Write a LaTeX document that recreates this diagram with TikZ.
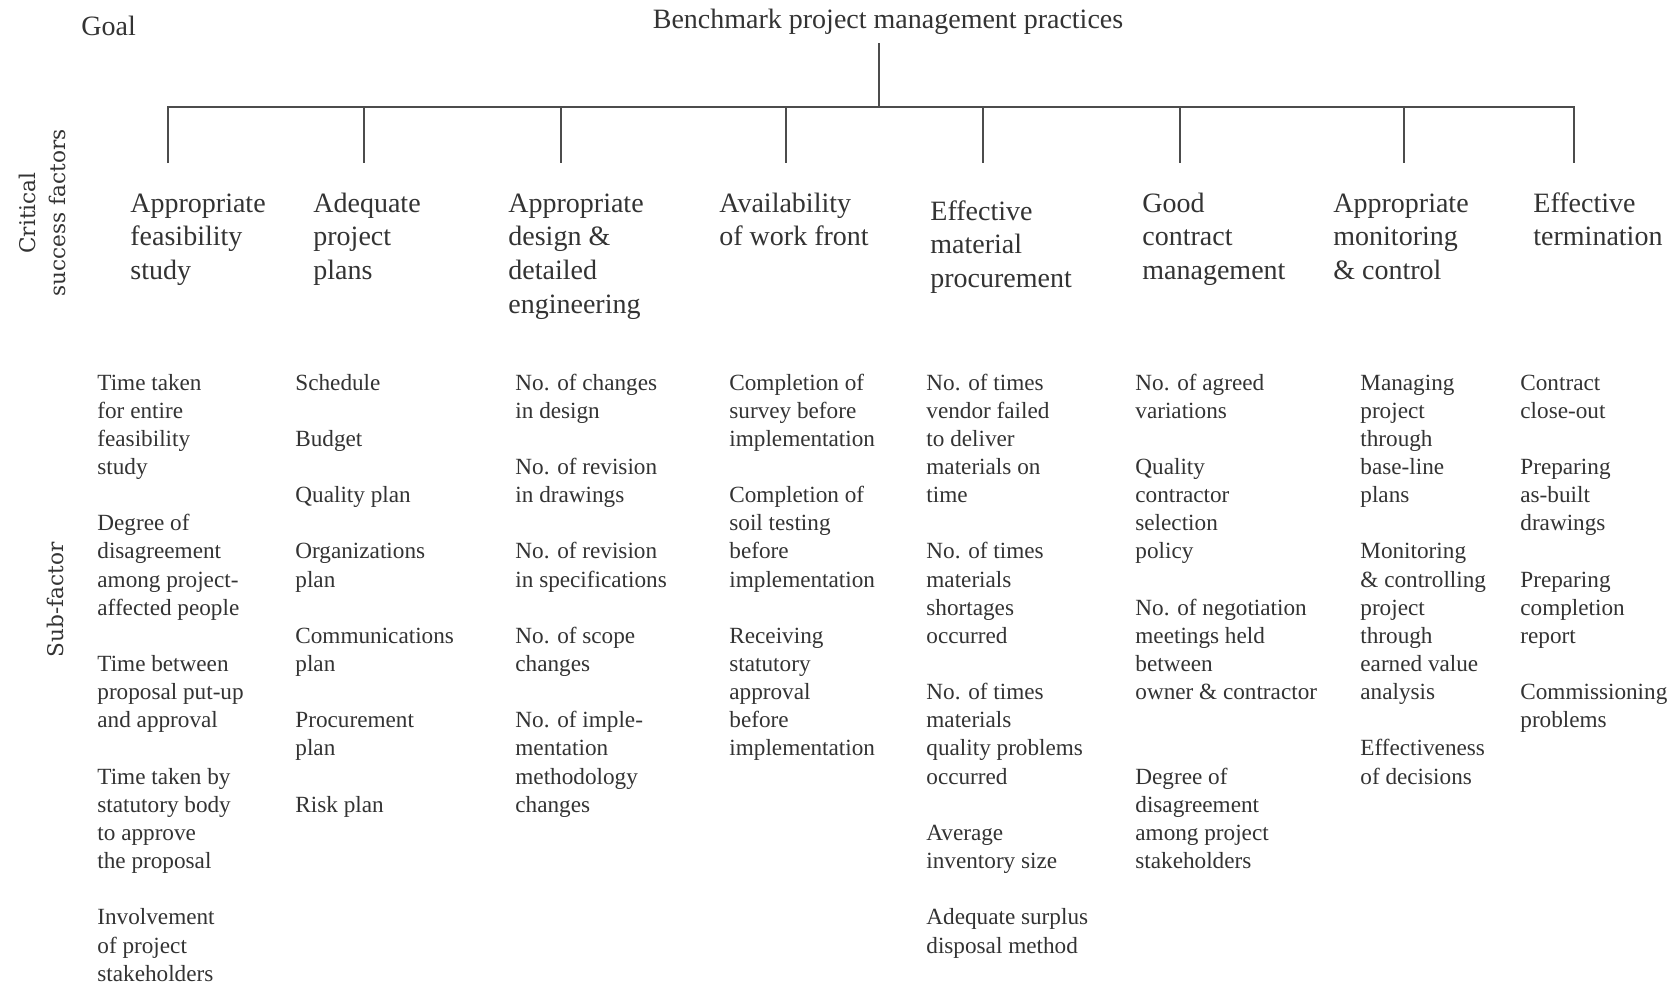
\documentclass[tikz,border=0pt]{standalone}
\usepackage{fontspec}
\setmainfont{Liberation Serif}
\newfontfamily\sidefont{DejaVu Serif}
\newcommand{\subrow}[1]{390+#1*28.15}
\newcommand{\stack}[1]{\begin{tabular}[t]{@{}l@{}}#1\end{tabular}}

\begin{document}
\begin{tikzpicture}[x=0.5pt,y=-0.5pt,
  cat/.style={anchor=base west, inner sep=0, text=black!80,
    font=\fontsize{14}{16.95}\selectfont},
  sub/.style={anchor=base west, inner sep=0, text=black!80,
    font=\fontsize{11.6}{14.07}\selectfont},
  side/.style={rotate=90, align=center, inner sep=0, text=black!80,
    font=\sidefont\fontsize{10.8}{15}\selectfont},
  tree/.style={line width=1pt, draw=black!70}]

  \useasboundingbox[fill=white] (0,0) rectangle (1675,985);

  % goal level
  \node[cat] (goal) at (81,35) {Goal};
  \node[cat,anchor=base] (bench) at (888,28) {Benchmark project management practices};

  \node[side] (csf) at (42,213) {Critical\\success factors};
  \node[side] (subf) at (55,600) {Sub-factor};

  % tree
  \coordinate (stem) at (879,43);
  \coordinate (hub) at (879,107);
  \foreach \x [count=\i] in {168,364,561,786,983,1180,1404,1574}
    \coordinate (drop\i) at (\x,163);
  \draw[tree] (stem) -- (hub);
  \draw[tree] (drop1) -- (drop1 |- hub) -- (drop8 |- hub) -- (drop8);
  \foreach \i in {2,...,7}
    \draw[tree] (drop\i |- hub) -- (drop\i);

  % critical success factors
  \node[cat] (feas) at (130,212) {\stack{Appropriate\\feasibility\\study}};
  \node[cat] (plans) at (313,212) {\stack{Adequate\\project\\plans}};
  \node[cat] (design) at (508,212) {\stack{Appropriate\\design \&\\detailed\\engineering}};
  \node[cat] (front) at (719,212) {\stack{Availability\\of work front}};
  \node[cat] (procure) at (930,220) {\stack{Effective\\material\\procurement}};
  \node[cat] (contract) at (1142,212) {\stack{Good\\contract\\management}};
  \node[cat] (monitor) at (1333,212) {\stack{Appropriate\\monitoring\\\& control}};
  \node[cat] (termin) at (1533,212) {\stack{Effective\\termination}};

  % sub-factors
  \node[sub] (feas1) at (97,\subrow{0}) {\stack{Time taken\\for entire\\feasibility\\study}};
  \node[sub] (feas2) at (97,\subrow{5}) {\stack{Degree of\\disagreement\\among project-\\affected people}};
  \node[sub] (feas3) at (97,\subrow{10}) {\stack{Time between\\proposal put-up\\and approval}};
  \node[sub] (feas4) at (97,\subrow{14}) {\stack{Time taken by\\statutory body\\to approve\\the proposal}};
  \node[sub] (feas5) at (97,\subrow{19}) {\stack{Involvement\\of project\\stakeholders}};

  \node[sub] (plans1) at (295,\subrow{0}) {Schedule};
  \node[sub] (plans2) at (295,\subrow{2}) {Budget};
  \node[sub] (plans3) at (295,\subrow{4}) {Quality plan};
  \node[sub] (plans4) at (295,\subrow{6}) {\stack{Organizations\\plan}};
  \node[sub] (plans5) at (295,\subrow{9}) {\stack{Communications\\plan}};
  \node[sub] (plans6) at (295,\subrow{12}) {\stack{Procurement\\plan}};
  \node[sub] (plans7) at (295,\subrow{15}) {Risk plan};

  \node[sub] (design1) at (515,\subrow{0}) {\stack{No. of changes\\in design}};
  \node[sub] (design2) at (515,\subrow{3}) {\stack{No. of revision\\in drawings}};
  \node[sub] (design3) at (515,\subrow{6}) {\stack{No. of revision\\in specifications}};
  \node[sub] (design4) at (515,\subrow{9}) {\stack{No. of scope\\changes}};
  \node[sub] (design5) at (515,\subrow{12}) {\stack{No. of imple-\\mentation\\methodology\\changes}};

  \node[sub] (front1) at (729,\subrow{0}) {\stack{Completion of\\survey before\\implementation}};
  \node[sub] (front2) at (729,\subrow{4}) {\stack{Completion of\\soil testing\\before\\implementation}};
  \node[sub] (front3) at (729,\subrow{9}) {\stack{Receiving\\statutory\\approval\\before\\implementation}};

  \node[sub] (procure1) at (926,\subrow{0}) {\stack{No. of times\\vendor failed\\to deliver\\materials on\\time}};
  \node[sub] (procure2) at (926,\subrow{6}) {\stack{No. of times\\materials\\shortages\\occurred}};
  \node[sub] (procure3) at (926,\subrow{11}) {\stack{No. of times\\materials\\quality problems\\occurred}};
  \node[sub] (procure4) at (926,\subrow{16}) {\stack{Average\\inventory size}};
  \node[sub] (procure5) at (926,\subrow{19}) {\stack{Adequate surplus\\disposal method}};

  \node[sub] (contract1) at (1135,\subrow{0}) {\stack{No. of agreed\\variations}};
  \node[sub] (contract2) at (1135,\subrow{3}) {\stack{Quality\\contractor\\selection\\policy}};
  \node[sub] (contract3) at (1135,\subrow{8}) {\stack{No. of negotiation\\meetings held\\between\\owner \& contractor}};
  \node[sub] (contract4) at (1135,\subrow{14}) {\stack{Degree of\\disagreement\\among project\\stakeholders}};

  \node[sub] (monitor1) at (1360,\subrow{0}) {\stack{Managing\\project\\through\\base-line\\plans}};
  \node[sub] (monitor2) at (1360,\subrow{6}) {\stack{Monitoring\\\& controlling\\project\\through\\earned value\\analysis}};
  \node[sub] (monitor3) at (1360,\subrow{13}) {\stack{Effectiveness\\of decisions}};

  \node[sub] (termin1) at (1520,\subrow{0}) {\stack{Contract\\close-out}};
  \node[sub] (termin2) at (1520,\subrow{3}) {\stack{Preparing\\as-built\\drawings}};
  \node[sub] (termin3) at (1520,\subrow{7}) {\stack{Preparing\\completion\\report}};
  \node[sub] (termin4) at (1520,\subrow{11}) {\stack{Commissioning\\problems}};
\end{tikzpicture}
\end{document}
